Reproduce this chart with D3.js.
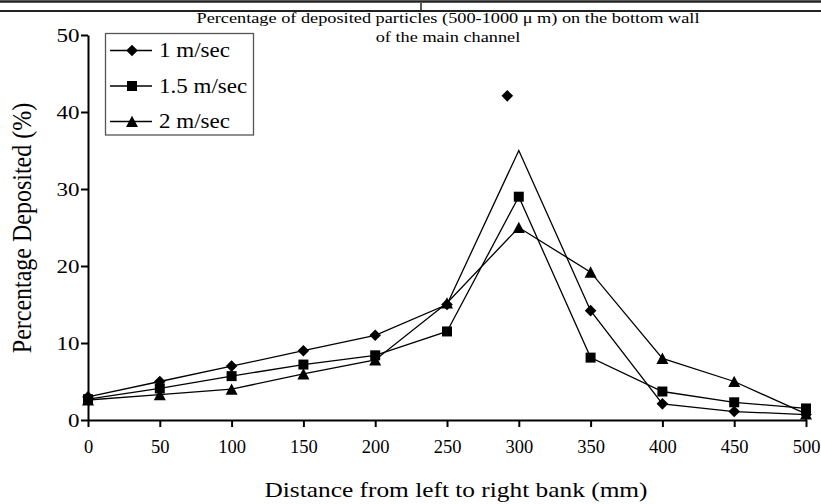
<!DOCTYPE html>
<html>
<head>
<meta charset="utf-8">
<script src="https://cdn.jsdelivr.net/npm/d3@7"></script>
<style>
  html, body { margin: 0; padding: 0; background: #fff; }
  svg { display: block; font-family: "Liberation Serif", "Times New Roman", serif; }
</style>
</head>
<body>
<svg id="chart" width="821" height="504"></svg>
<script>
// Distance from the left bank (mm)
const distances = [0, 50, 100, 150, 200, 250, 300, 350, 400, 450, 500];

// Percentage deposited for each inflow velocity
const v1 = [3.0, 5.0, 7.0, 9.0, 11.0, 15.0, 35.0, 14.2, 2.1, 1.1, 0.7];
const v15 = [2.7, 4.1, 5.7, 7.2, 8.4, 11.5, 29.0, 8.1, 3.7, 2.3, 1.5];
const v2 = [2.6, 3.3, 4.0, 6.0, 7.8, 15.2, 25.0, 19.2, 8.0, 5.0, 0.8];

// 1 m/sec peak marker sits apart from its line
const v1PeakMarker = [{ x: 292, y: 42.1 }];
// positions of the 1 m/sec line that carry no marker
const v1Unmarked = [300];

const seriesNames = ["1 m/sec", "1.5 m/sec", "2 m/sec"];
const xTicks = [0, 50, 100, 150, 200, 250, 300, 350, 400, 450, 500];
const yTicks = [0, 10, 20, 30, 40, 50];

const titleLines = [
  "Percentage of deposited particles (500-1000 \u03bc m) on the bottom wall",
  "of the main channel"
];
const xTitle = "Distance from left to right bank (mm)";
const yTitle = "Percentage Deposited (%)";

// the lettering is set a little wide
const SX = 1.18;

const svg = d3.select("#chart");

// page header rules
svg.append("line").attr("x1", 0).attr("x2", 821).attr("y1", 1.5).attr("y2", 1.5)
  .attr("stroke", "#222").attr("stroke-width", 2.5);
svg.append("line").attr("x1", 0).attr("x2", 821).attr("y1", 11).attr("y2", 11)
  .attr("stroke", "#222").attr("stroke-width", 2);
svg.append("line").attr("x1", 421).attr("x2", 421).attr("y1", 3).attr("y2", 10)
  .attr("stroke", "#222").attr("stroke-width", 1.5);

const x = d3.scaleLinear().domain([0, 500]).range([88, 806]);
const y = d3.scaleLinear().domain([0, 50]).range([420, 35]);

function wideText(parent, tx, ty, size, str, anchor, sx = SX) {
  return parent.append("text")
    .attr("transform", `translate(${tx},${ty}) scale(${sx},1)`)
    .attr("text-anchor", anchor || "start")
    .attr("font-size", size).attr("fill", "#000").text(str);
}

// axes
const xAxis = svg.append("g").attr("transform", "translate(0,420)")
  .call(d3.axisBottom(x).tickValues(xTicks).tickSize(7).tickPadding(13).tickSizeOuter(0));
const yAxis = svg.append("g").attr("transform", "translate(88,0)")
  .call(d3.axisLeft(y).tickValues(yTicks).tickSize(7).tickPadding(1.5).tickSizeOuter(0));

[xAxis, yAxis].forEach(g => {
  g.select(".domain").attr("stroke", "#000").attr("stroke-width", 2);
  g.selectAll(".tick line").attr("stroke", "#000").attr("stroke-width", 2);
  g.selectAll(".tick text").attr("fill", "#000")
    .attr("font-family", "Liberation Serif, serif");
});
xAxis.selectAll(".tick text").attr("font-size", 18.5);
yAxis.selectAll(".tick text").attr("font-size", 19.5)
  .each(function () {
    const t = d3.select(this);
    const tx = +t.attr("x") || 0;
    t.attr("x", tx / SX).attr("transform", `scale(${SX},1)`);
  });

// titles
wideText(svg, 448, 23, 15.5, titleLines[0], "middle");
wideText(svg, 448, 42, 15.5, titleLines[1], "middle");
wideText(svg, 456, 497, 21.5, xTitle, "middle");
svg.append("text")
  .attr("transform", `translate(31,228) scale(${SX},1) rotate(-90)`)
  .attr("text-anchor", "middle").attr("font-size", 24).attr("fill", "#000").text(yTitle);

// marker shapes, drawn centred on the data point
const markerPaths = [
  "M0,-5.8L5.8,0L0,5.8L-5.8,0Z",
  "M-5,-5H5V5H-5Z",
  "M0,-5.8L6,5.6H-6Z"
];

const series = [v1, v15, v2];
const line = d3.line().x(d => x(d.x)).y(d => y(d.y));

series.forEach((vals, i) => {
  const pts = distances.map((d, j) => ({ x: d, y: vals[j] }));
  svg.append("path").datum(pts).attr("d", line)
    .attr("fill", "none").attr("stroke", "#000").attr("stroke-width", 1.3);
  const marked = i === 0 ? pts.filter(p => !v1Unmarked.includes(p.x)) : pts;
  svg.selectAll(null).data(marked).enter().append("path")
    .attr("d", markerPaths[i])
    .attr("transform", d => `translate(${x(d.x)},${y(d.y)})`)
    .attr("fill", "#000");
});

svg.selectAll(null).data(v1PeakMarker).enter().append("path")
  .attr("d", markerPaths[0])
  .attr("transform", d => `translate(${x(d.x)},${y(d.y)})`)
  .attr("fill", "#000");

// legend
const legend = svg.append("g");
legend.append("rect").attr("x", 105.5).attr("y", 33.5).attr("width", 148).attr("height", 101.5)
  .attr("fill", "#fff").attr("stroke", "#555").attr("stroke-width", 1.3);
seriesNames.forEach((name, i) => {
  const cy = 50.5 + i * 35.5;
  legend.append("line").attr("x1", 110).attr("x2", 152).attr("y1", cy).attr("y2", cy)
    .attr("stroke", "#000").attr("stroke-width", 1.3);
  legend.append("path").attr("d", markerPaths[i])
    .attr("transform", `translate(132,${cy})`).attr("fill", "#000");
  wideText(legend, 159, cy + 6.5, 20, name, "start", 1.15);
});
</script>
</body>
</html>
